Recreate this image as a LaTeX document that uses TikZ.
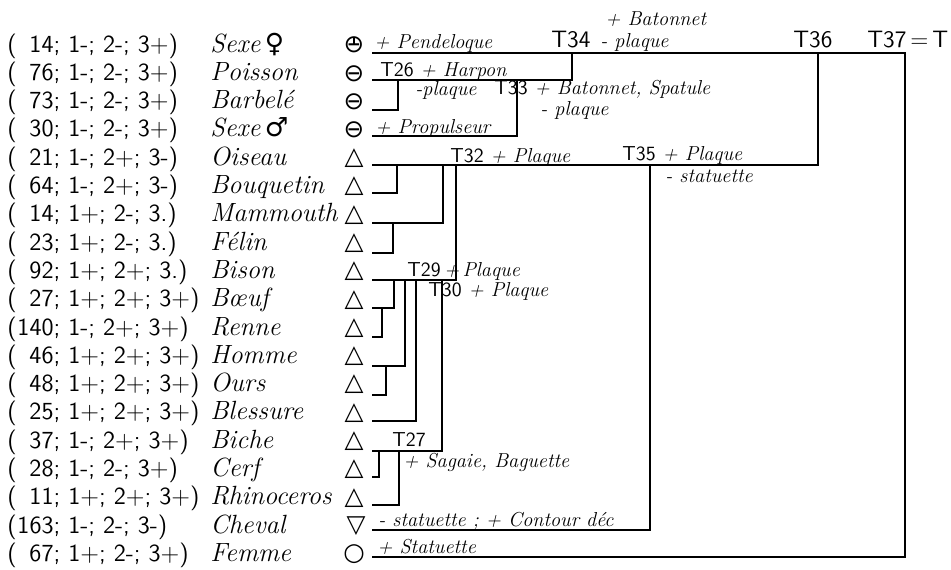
\documentclass[tikz,border=0pt]{standalone}
\usepackage{fontspec}
\newfontfamily\symfont{DejaVu Sans}
\newcommand{\fem}{{\symfont ♀}}
\newcommand{\mal}{{\symfont ♂}}
\newcommand{\tname}[1]{{\upshape\sffamily #1}}
\newcommand{\counts}[4]{(\makebox[1.5em][r]{#1}; #2; #3; #4)}
\tikzset{
  code/.style={anchor=base west, inner sep=0pt, font=\sffamily\fontsize{14}{16}\selectfont},
  taxon/.style={anchor=base west, inner sep=0pt, font=\itshape\fontsize{15}{17}\selectfont},
  sign/.style={inner sep=0pt, font=\symfont\fontsize{14}{16}\selectfont},
  branch/.style={line width=1.3pt},
  tlabel/.style={anchor=base west, inner sep=0pt, font=\sffamily\fontsize{13.5}{15}\selectfont},
  note/.style={anchor=base west, inner sep=0pt, font=\itshape\fontsize{11.5}{13}\selectfont}
}

\begin{document}
\begin{tikzpicture}[x=0.02cm, y=-0.02cm]
  \useasboundingbox (0,0) rectangle (951,569);

  % Codes, taxons et signes
  \node[code] (c1) at (7,52.0) {\counts{14}{1-}{2-}{3+}};   \node[taxon] (n1) at (210,52.0) {Sexe\,\fem};      \node[sign] (s1) at (354,45.0) {⊖};
  \node[code] (c2) at (7,80.3) {\counts{76}{1-}{2-}{3+}};   \node[taxon] (n2) at (210,80.3) {Poisson};         \node[sign] (s2) at (354,73.3) {⊖};
  \node[code] (c3) at (7,108.6) {\counts{73}{1-}{2-}{3+}};  \node[taxon] (n3) at (210,108.6) {Barbelé};        \node[sign] (s3) at (354,101.6) {⊖};
  \node[code] (c4) at (7,136.9) {\counts{30}{1-}{2-}{3+}};  \node[taxon] (n4) at (210,136.9) {Sexe\,\mal};     \node[sign] (s4) at (354,129.9) {⊖};
  \node[code] (c5) at (7,165.2) {\counts{21}{1-}{2+}{3-}};  \node[taxon] (n5) at (210,165.2) {Oiseau};         \node[sign] (s5) at (354,158.2) {△};
  \node[code] (c6) at (7,193.5) {\counts{64}{1-}{2+}{3-}};  \node[taxon] (n6) at (210,193.5) {Bouquetin};      \node[sign] (s6) at (354,186.5) {△};
  \node[code] (c7) at (7,221.8) {\counts{14}{1+}{2-}{3.}};  \node[taxon] (n7) at (210,221.8) {Mammouth};       \node[sign] (s7) at (354,214.8) {△};
  \node[code] (c8) at (7,250.1) {\counts{23}{1+}{2-}{3.}};  \node[taxon] (n8) at (210,250.1) {Félin};          \node[sign] (s8) at (354,243.1) {△};
  \node[code] (c9) at (7,278.4) {\counts{92}{1+}{2+}{3.}};  \node[taxon] (n9) at (210,278.4) {Bison};          \node[sign] (s9) at (354,271.4) {△};
  \node[code] (c10) at (7,306.7) {\counts{27}{1+}{2+}{3+}}; \node[taxon] (n10) at (210,306.7) {Bœuf};          \node[sign] (s10) at (354,299.7) {△};
  \node[code] (c11) at (7,335.0) {\counts{140}{1-}{2+}{3+}};\node[taxon] (n11) at (210,335.0) {Renne};         \node[sign] (s11) at (354,328.0) {△};
  \node[code] (c12) at (7,363.3) {\counts{46}{1+}{2+}{3+}}; \node[taxon] (n12) at (210,363.3) {Homme};         \node[sign] (s12) at (354,356.3) {△};
  \node[code] (c13) at (7,391.6) {\counts{48}{1+}{2+}{3+}}; \node[taxon] (n13) at (210,391.6) {Ours};          \node[sign] (s13) at (354,384.6) {△};
  \node[code] (c14) at (7,419.9) {\counts{25}{1+}{2+}{3+}}; \node[taxon] (n14) at (210,419.9) {Blessure};      \node[sign] (s14) at (354,412.9) {△};
  \node[code] (c15) at (7,448.2) {\counts{37}{1-}{2+}{3+}}; \node[taxon] (n15) at (210,448.2) {Biche};         \node[sign] (s15) at (354,441.2) {△};
  \node[code] (c16) at (7,476.5) {\counts{28}{1-}{2-}{3+}}; \node[taxon] (n16) at (210,476.5) {Cerf};          \node[sign] (s16) at (354,469.5) {△};
  \node[code] (c17) at (7,504.8) {\counts{11}{1+}{2+}{3+}}; \node[taxon] (n17) at (210,504.8) {Rhinoceros};    \node[sign] (s17) at (354,497.8) {△};
  \node[code] (c18) at (7,533.1) {\counts{163}{1-}{2-}{3-}};\node[taxon] (n18) at (210,533.1) {Cheval};        \node[sign] (s18) at (356,526.1) {▽};
  \node[code] (c19) at (7,561.4) {\counts{67}{1+}{2-}{3+}}; \node[taxon] (n19) at (210,561.4) {Femme};         \node[sign] (s19) at (354,554.4) {○};
  \draw[line width=1pt] (s1.north) -- (s1.center);

  % Departs des branches
  \coordinate (l1) at (372,53);   \coordinate (l2) at (372,80);   \coordinate (l3) at (372,110);
  \coordinate (l4) at (372,136);  \coordinate (l5) at (372,165);  \coordinate (l6) at (372,193);
  \coordinate (l7) at (372,223);  \coordinate (l8) at (372,253);  \coordinate (l9) at (372,280);
  \coordinate (l10) at (372,308); \coordinate (l11) at (372,337); \coordinate (l12) at (372,366);
  \coordinate (l13) at (372,395); \coordinate (l14) at (372,421); \coordinate (l15) at (372,451);
  \coordinate (l16) at (372,477); \coordinate (l17) at (372,505); \coordinate (l18) at (372,530);
  \coordinate (l19) at (372,557);

  % Noeuds de l'arbre
  \coordinate (t26) at (398,80);  \coordinate (t33) at (517,80);  \coordinate (t34) at (572,53);
  \coordinate (t36) at (818,53);  \coordinate (t37) at (905,53);  \coordinate (t35) at (650,165);
  \coordinate (j6) at (397,165);  \coordinate (j7) at (443,165);  \coordinate (j8) at (393,223);
  \coordinate (t32) at (456,165); \coordinate (j10) at (394,280); \coordinate (j11) at (382,308);
  \coordinate (j12) at (405,280); \coordinate (j13) at (386,366); \coordinate (j14) at (416,280);
  \coordinate (t30) at (442,280); \coordinate (j16) at (379,451); \coordinate (t27) at (399,451);

  % Branches
  \draw[branch] (l19) -| (t37) -- (l1);
  \draw[branch] (l5) -| (t36);
  \draw[branch] (l2) -| (t34);
  \draw[branch] (l3) -| (t26);
  \draw[branch] (l4) -| (t33);
  \draw[branch] (l18) -| (t35);
  \draw[branch] (l6) -| (j6);
  \draw[branch] (l7) -| (j7);
  \draw[branch] (l8) -| (j8);
  \draw[branch] (l9) -| (t32);
  \draw[branch] (l10) -| (j10);
  \draw[branch] (l11) -| (j11);
  \draw[branch] (l12) -| (j12);
  \draw[branch] (l13) -| (j13);
  \draw[branch] (l14) -| (j14);
  \draw[branch] (l15) -| (t30);
  \draw[branch] (l16) -| (j16);
  \draw[branch] (l17) -| (t27);

  % Etiquettes
  \node[note] (pendeloque) at (374,48) {+ Pendeloque};
  \node[tlabel] (T34) at (551,47) {T34};
  \node[note] (batonnet) at (605,25) {+ Batonnet};
  \node[note] (plaque34) at (600,47) {- plaque};
  \node[tlabel] (T36) at (793,47) {T36};
  \node[tlabel] (T37) at (867,47) {T37\,=\,T};
  \node[note] (harpon) at (380,76) {\tname{T26} + Harpon};
  \node[note] (plaque26) at (415,95) {-plaque};
  \node[note] (spatule) at (494,94) {\tname{T33} + Batonnet, Spatule};
  \node[note] (plaque33) at (540,115) {- plaque};
  \node[note] (propulseur) at (375,133) {+ Propulseur};
  \node[note] (plaque32) at (450,162) {\tname{T32} + Plaque};
  \node[note] (plaque35) at (622,160) {\tname{T35} + Plaque};
  \node[note] (statuette35) at (665,182) {- statuette};
  \node[note] (plaque29) at (407,276) {\tname{T29}\,+\,Plaque};
  \node[note] (plaque30) at (428,296) {\tname{T30} + Plaque};
  \node[note] (T27) at (392,446) {\tname{T27}};
  \node[note] (sagaie) at (403,467) {+ Sagaie, Baguette};
  \node[note] (contour) at (378,526) {- statuette ; + Contour déc};
  \node[note] (statuette) at (377,553) {+ Statuette};
\end{tikzpicture}
\end{document}
